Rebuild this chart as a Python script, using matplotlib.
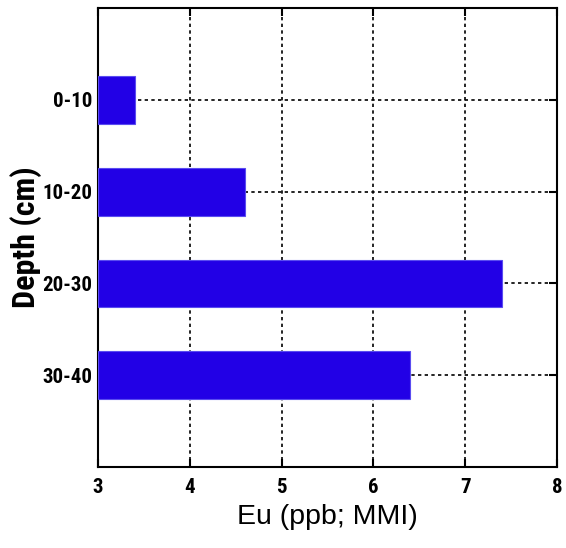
import matplotlib
matplotlib.use("Agg")
import matplotlib.pyplot as plt

depths = ["0-10", "10-20", "20-30", "30-40"]
eu_values = [3.4, 4.6, 7.4, 6.4]
x_ticks = [3, 4, 5, 6, 7, 8]

narrow = ['Roboto Condensed', 'Liberation Sans Narrow', 'Arial Narrow',
          'Liberation Sans', 'DejaVu Sans']
plt.rcParams['font.family'] = narrow

fig = plt.figure(figsize=(5.66, 5.48), dpi=100)
ax = fig.add_axes([0.173, 0.148, 0.811, 0.837])

pos = [1, 2, 3, 4]
ax.barh(pos, [v - 3 for v in eu_values], left=3, height=0.52,
        color="#2200e6", edgecolor="#5a4cf0", linewidth=0.8, zorder=3)

ax.set_xlim(3, 8)
ax.set_ylim(5, 0)
ax.set_xticks(x_ticks)
ax.set_yticks(pos)
ax.set_yticklabels(depths)

ax.grid(True, color="black", linestyle=(0, (2, 2)), linewidth=1.2, zorder=0)
ax.set_axisbelow(True)

ax.tick_params(direction="in", length=6, width=1.5, top=True, right=True,
               labelsize=15)
ax.tick_params(axis="y", pad=4)
ax.tick_params(axis="x", pad=8)
for lbl in ax.get_xticklabels() + ax.get_yticklabels():
    lbl.set_fontweight("bold")
for s in ax.spines.values():
    s.set_linewidth(1.5)

ax.set_xlabel("Eu (ppb; MMI)", fontsize=20.5, labelpad=5,
              family=['Liberation Sans', 'DejaVu Sans'])
ax.set_ylabel("Depth (cm)", fontsize=23, fontweight="bold", va="center")
ax.yaxis.set_label_coords(-0.157, 0.5)

fig.savefig("out.png", dpi=100)
